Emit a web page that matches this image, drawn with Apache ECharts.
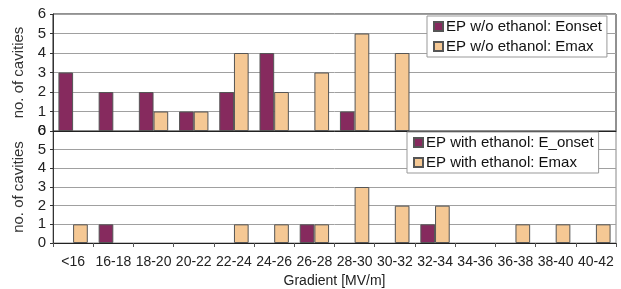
<!DOCTYPE html>
<html>
<head>
<meta charset="utf-8">
<script src="https://cdn.jsdelivr.net/npm/echarts@6/dist/echarts.min.js"></script>
<style>
  html, body { margin: 0; padding: 0; background: #fff; }
  #chart { width: 621px; height: 289px; }
</style>
</head>
<body>
<div id="chart"></div>
<script>
const categories = ['<16', '16-18', '18-20', '20-22', '22-24', '24-26', '26-28',
  '28-30', '30-32', '32-34', '34-36', '36-38', '38-40', '40-42']
// top panel: without ethanol
const woOnset = [3, 2, 2, 1, 2, 4, 0, 1, 0, 0, 0, 0, 0, 0]
const woMax = [0, 0, 1, 1, 4, 2, 3, 5, 4, 0, 0, 0, 0, 0]
// bottom panel: with ethanol
const withOnset = [0, 1, 0, 0, 0, 0, 1, 0, 0, 1, 0, 0, 0, 0]
const withMax = [1, 0, 0, 0, 1, 1, 1, 3, 2, 2, 0, 1, 1, 1]
const yTicks = [0, 1, 2, 3, 4, 5, 6]

const purple = '#862a5e'
const tan = '#f5c894'
const font = 'Liberation Sans, Arial, sans-serif'

const chart = echarts.init(document.getElementById('chart'))

function yAxis(gridIndex) {
  return {
    type: 'value',
    gridIndex: gridIndex,
    min: yTicks[0],
    max: yTicks[yTicks.length - 1],
    interval: 1,
    name: 'no. of cavities',
    nameLocation: 'middle',
    nameGap: 27,
    nameTextStyle: { color: '#333', fontSize: 15, fontFamily: font },
    axisLine: { show: true, lineStyle: { color: '#333', width: 1 } },
    axisTick: { show: true, length: 3, lineStyle: { color: '#333' } },
    axisLabel: { color: '#222', fontSize: 15, fontFamily: font, margin: 7 },
    splitLine: { lineStyle: { color: '#a0a0a0', width: 1 } }
  }
}

function bar(name, data, color, idx) {
  return {
    name: name,
    type: 'bar',
    xAxisIndex: idx,
    yAxisIndex: idx,
    // empty classes draw no bar
    data: data.map(v => (v === 0 ? null : v)),
    barGap: '0%',
    barCategoryGap: '27%',
    itemStyle: { color: color, borderColor: '#555', borderWidth: 1 }
  }
}

function legend(names, left, top, width) {
  return {
    data: names,
    orient: 'vertical', left: left, top: top, width: width,
    icon: 'rect',
    padding: [3, 5, 3, 6], itemGap: 5, itemWidth: 9, itemHeight: 9,
    backgroundColor: '#fff', borderColor: '#999', borderWidth: 1,
    textStyle: { color: '#111', fontSize: 15, fontFamily: font, padding: [0, 0, 0, -2] }
  }
}

chart.setOption({
  animation: false,
  grid: [
    { left: 53, right: 5, top: 14, height: 117, show: true, borderColor: '#222', borderWidth: 1 },
    { left: 53, right: 5, top: 131, height: 116, show: true, borderColor: '#888', borderWidth: 1 }
  ],
  legend: [
    legend(['EP w/o ethanol: Eonset', 'EP w/o ethanol: Emax'], 427, 16, 184),
    legend(['EP with ethanol: E_onset', 'EP with ethanol: Emax'], 407, 132, 202)
  ],
  xAxis: [
    {
      type: 'category', gridIndex: 0, data: categories,
      axisLine: { lineStyle: { color: '#222' } },
      axisTick: { show: false },
      axisLabel: { show: false }
    },
    {
      type: 'category', gridIndex: 1, data: categories,
      name: 'Gradient [MV/m]',
      nameLocation: 'middle',
      nameGap: 31,
      nameTextStyle: { color: '#222', fontSize: 14, fontFamily: font },
      axisLine: { lineStyle: { color: '#222' } },
      axisTick: { show: true, length: 4, lineStyle: { color: '#555' } },
      axisLabel: { color: '#222', fontSize: 14, fontFamily: font, margin: 12, interval: 0 }
    }
  ],
  yAxis: [yAxis(0), yAxis(1)],
  series: [
    bar('EP w/o ethanol: Eonset', woOnset, purple, 0),
    bar('EP w/o ethanol: Emax', woMax, tan, 0),
    bar('EP with ethanol: E_onset', withOnset, purple, 1),
    bar('EP with ethanol: Emax', withMax, tan, 1)
  ]
})
</script>
</body>
</html>
